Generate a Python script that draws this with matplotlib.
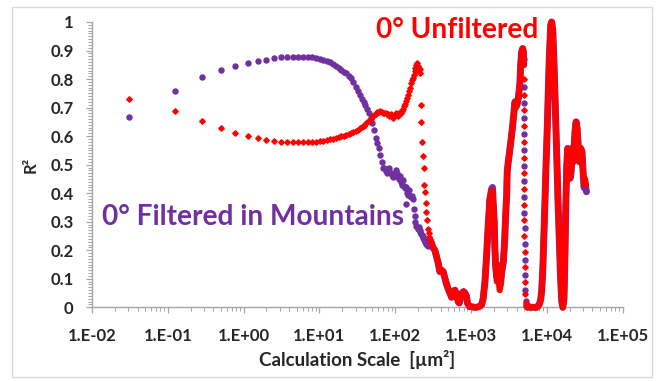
import matplotlib
matplotlib.use("Agg")
import matplotlib.pyplot as plt
from matplotlib.ticker import FixedLocator, MultipleLocator, LogLocator, NullFormatter
from matplotlib.patches import Rectangle

# ---------------- data ----------------
# sparse / separately visible points (markers only)
purple_dots_x = [0.031, 0.125, 0.28, 0.5, 0.78, 1.13, 1.53, 2.0, 2.53, 3.13, 3.78, 4.5,
                 5.28, 6.13, 7.03, 8.0, 9.03, 10.1, 11.3, 12.5, 13.8, 15.1, 16.5, 18.1,
                 19.5, 21.1, 22.8, 24.5, 26.3, 28.1, 30.0, 32.0, 34.0, 36.1, 38.3, 40.5,
                 42.8, 45.1, 47.5, 50.0, 52.5, 55.1, 57.8, 60.5, 63.3, 66.1, 69.0, 72.0,
                 75.0, 78.0, 81.0, 84.0, 87.8, 91.0, 94.5, 98.0, 101.5, 105.0, 108.8,
                 112.5, 116.3, 120.0, 124.0, 128.0, 132.0, 136.0, 139.0, 140.5, 145.0,
                 149.0, 153.0, 158.0, 162.0, 167.0, 171.0, 176.0, 181.0, 185.0, 190.0,
                 195.0, 200.0, 205.0, 210.0, 215.0, 220.0, 225.0, 230.0, 236.0, 241.0,
                 247.0, 252.0, 258.0, 264.0, 270.0, 276.0,
                 4985, 4995, 5005, 5015, 5025, 5035, 5045, 5055, 5068, 5082, 5097,
                 5112, 5135, 5175, 5230, 5300, 5380, 5500]
purple_dots_y = [0.668, 0.758, 0.808, 0.832, 0.847, 0.856, 0.863, 0.868, 0.873, 0.876, 0.878, 0.879,
                 0.879, 0.878, 0.878, 0.876, 0.874, 0.871, 0.868, 0.864, 0.859, 0.853, 0.846, 0.840,
                 0.833, 0.826, 0.820, 0.812, 0.803, 0.790, 0.772, 0.758, 0.745, 0.730, 0.720, 0.710,
                 0.695, 0.680, 0.665, 0.645, 0.620, 0.595, 0.575, 0.560, 0.535, 0.510, 0.490, 0.488,
                 0.478, 0.470, 0.486, 0.490, 0.470, 0.465, 0.455, 0.460, 0.480, 0.470, 0.455,
                 0.450, 0.460, 0.440, 0.430, 0.445, 0.425, 0.418, 0.362, 0.420, 0.400,
                 0.395, 0.410, 0.390, 0.385, 0.390, 0.380, 0.345, 0.320, 0.300, 0.285,
                 0.280, 0.275, 0.283, 0.270, 0.265, 0.258, 0.255, 0.250, 0.243, 0.236,
                 0.230, 0.228, 0.222, 0.218, 0.214, 0.218,
                 0.870, 0.772, 0.717, 0.662, 0.607, 0.552, 0.497, 0.442, 0.387, 0.332, 0.277,
                 0.222, 0.167, 0.112, 0.060, 0.022, 0.008, 0.002]

red_dots_x = [0.031, 0.125, 0.28, 0.5, 0.78, 1.13, 1.53, 2.0, 2.53, 3.13, 3.78, 4.5,
              5.28, 6.13, 7.03, 8.0, 9.03, 10.1, 11.3, 12.5, 13.8, 15.1, 16.5, 18.1,
              19.5, 21.1, 22.8, 24.5, 26.3, 28.1, 30.0, 32.0, 34.0, 36.1, 38.3, 40.5,
              42.8, 45.1, 47.5, 50.0, 52.5, 55.1, 57.8, 60.5, 63.3, 66.1, 69.0, 72.0,
              75.0, 78.0, 81.0, 84.0, 87.8, 91.0, 94.5, 98.0, 101.5, 105.0, 108.8,
              112.5, 116.3, 120.0, 124.0, 128.0, 132.0, 136.0, 140.5, 145.0, 149.0,
              153.0, 158.0, 162.0, 167.0, 171.0, 176.0, 181.0, 185.0, 190.0, 195.0,
              200.0, 205.0, 210.0, 212.0, 217.0, 221.0, 226.0, 231.0, 237.0, 242.0,
              248.0, 254.0, 259.0, 265.0, 271.0, 277.0, 283.0,
              4980, 4990, 5000, 5010, 5020, 5030, 5040, 5050, 5062, 5075, 5090, 5105,
              5120, 5150, 5200, 5260, 5340, 5440]
red_dots_y = [0.730, 0.688, 0.652, 0.627, 0.611, 0.600, 0.593, 0.587, 0.582, 0.580, 0.579, 0.578,
              0.578, 0.578, 0.578, 0.579, 0.580, 0.582, 0.584, 0.586, 0.589, 0.591, 0.593, 0.596,
              0.599, 0.602, 0.605, 0.608, 0.612, 0.615, 0.619, 0.623, 0.627, 0.631, 0.636, 0.642,
              0.648, 0.654, 0.660, 0.667, 0.673, 0.679, 0.684, 0.686, 0.688, 0.685, 0.682, 0.680,
              0.682, 0.678, 0.676, 0.672, 0.678, 0.670, 0.665, 0.672, 0.680, 0.675, 0.672,
              0.678, 0.684, 0.680, 0.688, 0.695, 0.705, 0.712, 0.722, 0.735, 0.745,
              0.758, 0.770, 0.785, 0.795, 0.805, 0.815, 0.828, 0.840, 0.850, 0.856,
              0.845, 0.832, 0.836, 0.820, 0.710, 0.650, 0.580, 0.530, 0.490, 0.430,
              0.405, 0.365, 0.335, 0.305, 0.275, 0.260, 0.248,
              0.800, 0.745, 0.690, 0.635, 0.580, 0.525, 0.470, 0.415, 0.360, 0.305, 0.250, 0.195,
              0.140, 0.090, 0.045, 0.015, 0.004, 0.0]

# dense parts of the curves (points so close that they merge into a band)
purple_band1_x = [287, 295, 302, 315, 334, 350, 370, 389, 410, 430, 450, 478, 500, 528, 556,
                  584, 615, 645, 679, 700, 730, 760, 800, 834, 870, 900, 950, 1020, 1100, 1190,
                  1290, 1380, 1450, 1530, 1610, 1690, 1780, 1880, 1925, 1970, 2030, 2070, 2130,
                  2200, 2280, 2340, 2400, 2460, 2540, 2600, 2680, 2780, 2870, 2960, 3010, 3110,
                  3280, 3440, 3560, 3700, 3810, 3930, 4050, 4220, 4440, 4530, 4680, 4820, 4920,
                  4975]
purple_band1_y = [0.228, 0.230, 0.225, 0.210, 0.200, 0.180, 0.155, 0.125, 0.130, 0.125, 0.105,
                  0.080, 0.065, 0.050, 0.035, 0.045, 0.060, 0.045, 0.020, 0.015, 0.035, 0.050,
                  0.055, 0.050, 0.040, 0.015, 0.003, 0.002, 0.0, 0.0, 0.003, 0.008, 0.030,
                  0.089, 0.182, 0.288, 0.381, 0.416, 0.420, 0.365, 0.300, 0.206, 0.136, 0.106,
                  0.147, 0.120, 0.075, 0.085, 0.120, 0.140, 0.160, 0.230, 0.320, 0.393, 0.475,
                  0.510, 0.557, 0.604, 0.639, 0.685, 0.720, 0.705, 0.709, 0.732, 0.790, 0.849,
                  0.896, 0.907, 0.896, 0.850]
purple_band2_x = [5650, 6000, 6500, 7000, 7400, 7800, 8100, 8350, 8600, 8900, 9200, 9500, 9800,
                  10200, 10500, 10800, 11300, 11600, 12000, 12500, 13000, 13600, 14100, 14700,
                  15200, 15800, 16300, 16900, 17400, 17900, 18400, 18900, 19500, 20300, 21000,
                  21700, 22400, 23000, 23600, 24400, 25200, 26200, 27100, 28100, 29200, 30400,
                  31100, 32000, 33500]
purple_band2_y = [0.004, 0.0, 0.0, 0.0, 0.0, 0.005, 0.015, 0.030, 0.060, 0.140, 0.260, 0.380,
                  0.500, 0.640, 0.760, 0.870, 0.990, 1.000, 0.975, 0.850, 0.700, 0.520, 0.370,
                  0.230, 0.110, 0.020, 0.0, 0.030, 0.180, 0.370, 0.500, 0.557, 0.533, 0.452,
                  0.475, 0.557, 0.510, 0.560, 0.615, 0.650, 0.627, 0.557, 0.510, 0.557, 0.545,
                  0.463, 0.420, 0.430, 0.405]

red_band1_x = [289, 295, 302, 315, 334, 350, 370, 389, 410, 430, 450, 478, 500, 528, 556,
               584, 615, 645, 679, 700, 730, 760, 800, 834, 870, 900, 950, 1020, 1100, 1190,
               1290, 1380, 1450, 1530, 1610, 1690, 1780, 1880, 1920, 1970, 2030, 2070, 2130,
               2200, 2280, 2340, 2400, 2460, 2540, 2600, 2680, 2780, 2870, 2960, 3010, 3110,
               3280, 3440, 3560, 3700, 3810, 3930, 4050, 4220, 4440, 4530, 4680, 4820, 4920,
               4970]
red_band1_y = [0.240, 0.235, 0.225, 0.210, 0.200, 0.180, 0.155, 0.125, 0.130, 0.125, 0.105,
               0.080, 0.065, 0.050, 0.035, 0.045, 0.060, 0.045, 0.020, 0.015, 0.035, 0.050,
               0.055, 0.050, 0.040, 0.015, 0.003, 0.002, 0.0, 0.0, 0.003, 0.008, 0.030,
               0.089, 0.182, 0.288, 0.381, 0.410, 0.405, 0.358, 0.300, 0.206, 0.136, 0.090,
               0.140, 0.110, 0.060, 0.080, 0.120, 0.140, 0.160, 0.230, 0.320, 0.393, 0.475,
               0.510, 0.557, 0.604, 0.639, 0.685, 0.720, 0.700, 0.709, 0.732, 0.790, 0.849,
               0.896, 0.907, 0.896, 0.850]
red_band2_x = [5650, 6000, 6500, 7000, 7400, 7800, 8100, 8350, 8600, 8900, 9200, 9500, 9800,
               10200, 10500, 10800, 11300, 11600, 12000, 12500, 13000, 13600, 14100, 14700,
               15200, 15800, 16300, 16900, 17400, 17900, 18400, 18900, 19500, 20300, 21000,
               21700, 22400, 23000, 23600, 24400, 25200, 26200, 27100, 28100, 29200, 30400,
               31100, 32000, 33000]
red_band2_y = [0.004, 0.0, 0.0, 0.0, 0.0, 0.005, 0.015, 0.030, 0.060, 0.140, 0.260, 0.380,
               0.500, 0.640, 0.760, 0.870, 0.990, 1.000, 0.975, 0.850, 0.700, 0.520, 0.370,
               0.230, 0.110, 0.020, 0.0, 0.030, 0.180, 0.370, 0.500, 0.557, 0.533, 0.452,
               0.475, 0.557, 0.510, 0.560, 0.615, 0.650, 0.627, 0.557, 0.510, 0.557, 0.545,
               0.463, 0.430, 0.450, 0.430]

x_ticks = [1e-2, 1e-1, 1e0, 1e1, 1e2, 1e3, 1e4, 1e5]
x_tick_labels = ["1.E-02", "1.E-01", "1.E+00", "1.E+01", "1.E+02", "1.E+03", "1.E+04", "1.E+05"]
y_ticks = [0, 0.1, 0.2, 0.3, 0.4, 0.5, 0.6, 0.7, 0.8, 0.9, 1.0]
y_tick_labels = ["0", "0.1", "0.2", "0.3", "0.4", "0.5", "0.6", "0.7", "0.8", "0.9", "1"]

label_red = "0° Unfiltered"
label_purple = "0° Filtered in Mountains"
x_title = "Calculation Scale  [µm²]"
y_title = "R²"

# ---------------- styling ----------------
PURPLE = "#7030a0"
RED = "#ff0000"
AXCOL = "#a6a6a6"
TXT = "#262626"
plt.rcParams["font.family"] = ["Lato", "DejaVu Sans"]
plt.rcParams["font.weight"] = "bold"

W, H = 663, 381
fig = plt.figure(figsize=(W / 100, H / 100), dpi=100)
fig.patch.set_facecolor("white")
fig.add_artist(Rectangle((11.5 / W, 4 / H), 640 / W, 370 / H, transform=fig.transFigure,
                         fill=False, edgecolor="#d9d9d9", linewidth=1.0))

left, right, top, bottom = 92, 622.5, 22, 307.3
ax = fig.add_axes([left / W, 1 - bottom / H, (right - left) / W, (bottom - top) / H])
ax.set_xscale("log")
ax.set_xlim(1e-2, 1e5)
ax.set_ylim(0, 1)

# purple series (drawn first)
ax.plot(purple_band1_x, purple_band1_y, color=PURPLE, lw=5.0, solid_joinstyle="round",
        solid_capstyle="round", clip_on=False, zorder=2)
ax.plot(purple_band2_x, purple_band2_y, color=PURPLE, lw=5.0, solid_joinstyle="round",
        solid_capstyle="round", clip_on=False, zorder=2)
ax.plot(purple_dots_x, purple_dots_y, ls="none", marker="o", ms=3.6, color=PURPLE,
        mec=PURPLE, clip_on=False, zorder=2)

# red series (on top)
ax.plot(red_band1_x, red_band1_y, color=RED, lw=4.4, solid_joinstyle="round",
        solid_capstyle="round", clip_on=False, zorder=3)
ax.plot(red_band2_x, red_band2_y, color=RED, lw=4.4, solid_joinstyle="round",
        solid_capstyle="round", clip_on=False, zorder=3)
ax.plot(red_dots_x, red_dots_y, ls="none", marker="D", ms=2.8, color=RED, mec=RED,
        clip_on=False, zorder=3)

for s in ["top", "right"]:
    ax.spines[s].set_visible(False)
for s in ["left", "bottom"]:
    ax.spines[s].set_color(AXCOL)
    ax.spines[s].set_linewidth(1.0)

ax.xaxis.set_major_locator(FixedLocator(x_ticks))
ax.set_xticklabels(x_tick_labels)
ax.xaxis.set_minor_locator(LogLocator(base=10, subs=range(2, 10), numticks=20))
ax.xaxis.set_minor_formatter(NullFormatter())
ax.yaxis.set_major_locator(FixedLocator(y_ticks))
ax.set_yticklabels(y_tick_labels)
ax.yaxis.set_minor_locator(MultipleLocator(0.01))

ax.tick_params(axis="both", which="major", direction="out", length=4.2, width=0.9,
               color=AXCOL, labelcolor=TXT, labelsize=12)
ax.tick_params(axis="both", which="minor", direction="out", length=2.6, width=0.7,
               color=AXCOL)
ax.tick_params(axis="y", which="major", pad=9)
ax.tick_params(axis="x", which="major", pad=11)
for t in ax.get_xticklabels() + ax.get_yticklabels():
    t.set_fontweight("bold")

fig.text(357.5 / W, 1 - 359.5 / H, x_title, ha="center", va="center", fontsize=13.5,
         fontweight="bold", color=TXT)
fig.text(31 / W, 1 - 165 / H, y_title, ha="center", va="center", rotation=90,
         fontsize=12, fontweight="bold", color=TXT)

fig.text(376 / W, 1 - 38.5 / H, label_red, ha="left", va="baseline", fontsize=20.2,
         fontweight="bold", color=RED)
fig.text(102 / W, 1 - 225 / H, label_purple, ha="left", va="baseline", fontsize=20.2,
         fontweight="bold", color=PURPLE)

fig.savefig("out.png", dpi=100, facecolor="white")
